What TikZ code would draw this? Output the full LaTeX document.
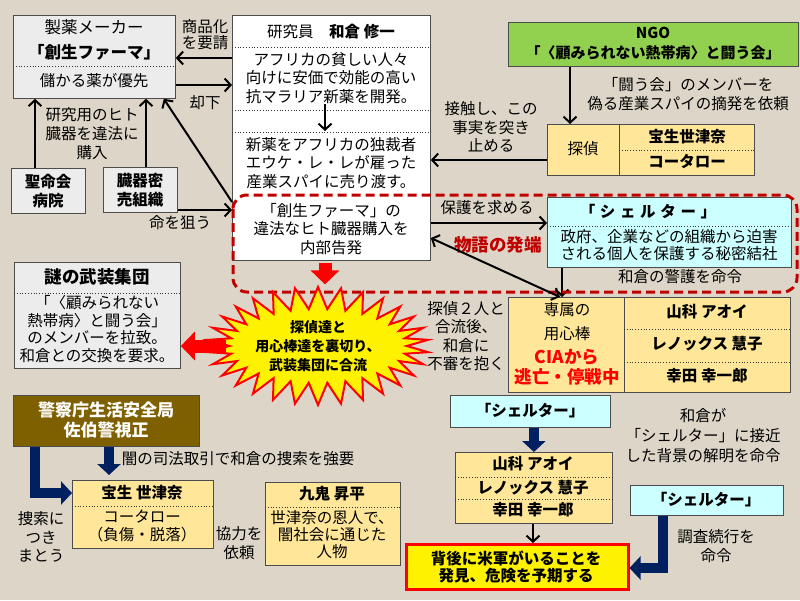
\documentclass[tikz,border=0pt]{standalone}
\usepackage{fontspec}
\setmainfont{Noto Sans CJK JP}
\newfontfamily\gesperrt[LetterSpace=30]{Noto Sans CJK JP}
\usepackage{tikz}
\usetikzlibrary{shapes.arrows,shapes.symbols,arrows.meta}

\definecolor{papier}{RGB}{221,214,200}
\definecolor{grau}{RGB}{236,236,236}
\definecolor{gelb}{RGB}{255,230,153}
\definecolor{tuerkis}{RGB}{204,255,255}
\definecolor{gruen}{RGB}{146,208,80}
\definecolor{braun}{RGB}{127,96,0}
\definecolor{marine}{RGB}{0,32,96}
\definecolor{dunkelrot}{RGB}{192,0,0}

\begin{document}
\begin{tikzpicture}[x=1pt,y=-1pt,
	>={Straight Barb[length=6pt,width=13pt]},
	kasten/.style={draw=black!70, line width=0.8pt, anchor=north west, inner sep=0pt},
	txt/.style={align=center, inner sep=0pt},
	fett/.style={txt, font=\fontsize{15.5}{18.5}\selectfont\bfseries},
	teil/.style={dotted, line width=0.8pt, black!80},
	verb/.style={line width=2pt},
	dick/.style={line width=10pt, marine, -{Triangle[length=11pt,width=23pt]}},
	rotpfeil/.style={line width=13pt, red, -{Triangle[length=14pt,width=28pt]}}]
			\tikzstyle{every node}=[font=\fontsize{15.5}{18.5}\selectfont]
			
			%Hintergrund
			\fill[papier] (0,0) rectangle (800,600);
			\useasboundingbox (0,0) rectangle (800,600);
			
			%Pharma
			\node[kasten, fill=grau, minimum width=162pt, minimum height=83pt] (pharma) at (13,15) {};
			\node[txt, font=\fontsize{16.5}{19}\selectfont] (pharmaA) at (94,27) {製薬メーカー};
			\node[fett, font=\fontsize{16.5}{19}\selectfont\bfseries] (pharmaB) at (94,52) {「創生ファーマ」};
			\draw[teil] (pharma.west |- 0,66) -- (pharma.east |- 0,66);
			\node[txt] (pharmaC) at (94,81) {儲かる薬が優先};
			
			\node[kasten, fill=grau, minimum width=74pt, minimum height=45pt] (spital) at (11,168) {};
			\node[fett] (spitalT) at (48,191) {聖命会\\病院};
			\node[kasten, fill=grau, minimum width=74pt, minimum height=45pt] (organ) at (103,167) {};
			\node[fett] (organT) at (140,190) {臓器密\\売組織};
			
			%Forscher
			\node[kasten, fill=white, minimum width=198pt, minimum height=245pt] (forscher) at (232,15) {};
			\node[txt] (titel) at (331,32) {研究員\quad{\bfseries 和倉 修一}};
			\draw[teil] (forscher.west |- 0,47) -- (forscher.east |- 0,47);
			\node[txt] (entw) at (331,78) {アフリカの貧しい人々\\向けに安価で効能の高い\\抗マラリア新薬を開発。};
			\draw[teil] (forscher.west |- 0,110) -- (forscher.east |- 0,110);
			\draw[teil] (forscher.west |- 0,132) -- (forscher.east |- 0,132);
			\node[txt] (verkauf) at (331,163) {新薬をアフリカの独裁者\\エウケ・レ・レが雇った\\産業スパイに売り渡す。};
			\node[txt] (anzeige) at (331,229) {「創生ファーマ」の\\違法なヒト臓器購入を\\内部告発};
			\draw[->, verb] (325,104) -- (325,131);
			
			%NGO und Detektiv
			\node[kasten, fill=gruen, minimum width=290pt, minimum height=44pt] (ngo) at (508,22) {};
			\node[fett, font=\fontsize{15}{20}\selectfont\bfseries] (ngoT) at (653,44) {NGO\\「〈顧みられない熱帯病〉と闘う会」};
			\node[kasten, fill=gelb, minimum width=207pt, minimum height=51pt] (detektiv) at (547,124) {};
			\draw[line width=0.8pt, black!70] (619,124) -- (619,175);
			\draw[teil] (619,150) -- (detektiv.east |- 0,150);
			\node[txt] (detektivT) at (583,149) {探偵};
			\node[fett] (hosho1) at (687,137) {宝生世津奈};
			\node[fett] (kotaro1) at (687,162) {コータロー};
			
			%Shelter
			\node[kasten, fill=tuerkis, minimum width=244pt, minimum height=70pt] (shelter) at (547,197) {};
			\node[fett] (shelterT) at (648,212) {{\gesperrt「シェルター」}};
			\draw[teil] (shelter.west |- 0,226) -- (shelter.east |- 0,226);
			\node[txt, font=\fontsize{15.5}{16.5}\selectfont] (shelterB) at (669,245) {政府、企業などの組織から迫害\\される個人を保護する秘密結社};
			
			%Leibwache
			\node[kasten, fill=gelb, minimum width=282pt, minimum height=95pt] (leibwache) at (508,297) {};
			\draw[line width=0.8pt, black!70] (624,297) -- (624,392);
			\draw[teil] (624,329) -- (leibwache.east |- 0,329);
			\draw[teil] (624,362) -- (leibwache.east |- 0,362);
			\node[fett] (aoi1) at (707,312) {山科 アオイ};
			\node[fett] (keiko1) at (707,344) {レノックス 慧子};
			\node[fett] (koichi1) at (707,376) {幸田 幸一郎};
			\node[txt] (exklusiv) at (567,310) {専属の};
			\node[txt] (bodyguard) at (567,334) {用心棒};
			\node[txt, red, font=\fontsize{17.5}{20}\selectfont\bfseries] (cia) at (567,367) {CIAから\\逃亡・停戦中};
			
			%Bande
			\node[kasten, fill=grau, minimum width=166pt, minimum height=106pt] (bande) at (14,262) {};
			\node[fett, font=\fontsize{17.5}{20}\selectfont\bfseries] (bandeT) at (97,277) {謎の武装集団};
			\draw[teil] (bande.west |- 0,293) -- (bande.east |- 0,293);
			\node[txt, font=\fontsize{15.5}{17.7}\selectfont] (bandeB) at (97,329) {「〈顧みられない\\熱帯病〉と闘う会」\\のメンバーを拉致。\\和倉との交換を要求。};
			
			%Polizei
			\node[kasten, fill=braun, minimum width=186pt, minimum height=51pt] (polizei) at (13,395) {};
			\node[fett, white, font=\fontsize{17}{20}\selectfont\bfseries] (polizeiT) at (106,420) {警察庁生活安全局\\佐伯警視正};
			\node[kasten, fill=gelb, minimum width=141pt, minimum height=68pt] (hosho) at (72,480) {};
			\node[fett] (hoshoT) at (142,493) {宝生 世津奈};
			\draw[teil] (hosho.west |- 0,506) -- (hosho.east |- 0,506);
			\node[txt] (hoshoB) at (142,526) {コータロー\\（負傷・脱落）};
			\node[kasten, fill=gelb, minimum width=135pt, minimum height=83pt] (kuki) at (265,482) {};
			\node[fett] (kukiT) at (332,494) {九鬼 昇平};
			\draw[teil] (kuki.west |- 0,507) -- (kuki.east |- 0,507);
			\node[txt, font=\fontsize{15.5}{17}\selectfont] (kukiB) at (332,535) {世津奈の恩人で、\\闇社会に通じた\\人物};
			
			%Shelter unten
			\node[kasten, fill=tuerkis, minimum width=160pt, minimum height=32pt] (schutz1) at (450,395) {};
			\node[fett] (schutz1T) at (530,411) {「シェルター」};
			\node[kasten, fill=gelb, minimum width=157pt, minimum height=71pt] (namen) at (455,452) {};
			\draw[teil] (namen.west |- 0,477) -- (namen.east |- 0,477);
			\draw[teil] (namen.west |- 0,499) -- (namen.east |- 0,499);
			\node[fett] (aoi2) at (533,464) {山科 アオイ};
			\node[fett] (keiko2) at (533,488) {レノックス 慧子};
			\node[fett] (koichi2) at (533,510) {幸田 幸一郎};
			\node[kasten, fill=tuerkis, minimum width=153pt, minimum height=30pt] (schutz2) at (630,485) {};
			\node[fett] (schutz2T) at (706,500) {「シェルター」};
			\node[kasten, fill=yellow, draw=red, line width=2.5pt, minimum width=222pt, minimum height=45pt] (entdeck) at (405,543) {};
			\node[fett, font=\fontsize{15.5}{17.5}\selectfont\bfseries] (entdeckT) at (516,567) {背後に米軍がいることを\\発見、危険を予期する};
			
			%Beschriftungen
			\node[txt, font=\fontsize{15.5}{16}\selectfont] (lblA) at (205,35) {商品化\\を要請};
			\node[txt] (lblB) at (205,103) {却下};
			\node[txt, font=\fontsize{15.5}{19}\selectfont] (lblC) at (92,134) {研究用のヒト\\臓器を違法に\\購入};
			\node[txt] (lblD) at (180,223) {命を狙う};
			\node[txt] (lblE) at (688,94) {「闘う会」のメンバーを\\偽る産業スパイの摘発を依頼};
			\node[txt] (lblF) at (491,127) {接触し、この\\事実を突き\\止める};
			\node[txt] (lblG) at (487,208) {保護を求める};
			\node[txt, font=\fontsize{17.5}{20}\selectfont\bfseries, dunkelrot] (lblH) at (498,245) {物語の発端};
			\node[txt] (lblI) at (680,277) {和倉の警護を命令};
			\node[txt] (lblJ) at (466,336) {探偵２人と\\合流後、\\和倉に\\不審を抱く};
			\node[txt] (lblK) at (238,459) {闇の司法取引で和倉の捜索を強要};
			\node[txt] (lblL) at (41,537) {捜索に\\つき\\まとう};
			\node[txt, font=\fontsize{15.5}{19}\selectfont] (lblM) at (239,543) {協力を\\依頼};
			\node[txt, font=\fontsize{15.5}{20}\selectfont] (lblN) at (703,436) {和倉が\\「シェルター」に接近\\した背景の解明を命令};
			\node[txt] (lblO) at (716,546) {調査続行を\\命令};
			
			%Pfeile
			\draw[->, verb] (forscher.west |- 0,58) -- (pharma.east |- 0,58);
			\draw[->, verb] (pharma.east |- 0,85) -- (forscher.west |- 0,85);
			\draw[->, verb] (spital.north -| 35,0) -- (pharma.south -| 35,0);
			\draw[->, verb] (organ.north -| 146,0) -- (pharma.south -| 146,0);
			\draw[->, verb] (forscher.west |- 0,202) -- ([xshift=-12pt]pharma.south east);
			\draw[->, verb] (organ.east |- 0,210) -- (forscher.west |- 0,210);
			\draw[->, verb] (ngo.south -| 570,0) -- (detektiv.north -| 570,0);
			\draw[->, verb] (detektiv.west |- 0,160) -- (forscher.east |- 0,160);
			\draw[->, verb] (forscher.east |- 0,223) -- (shelter.west |- 0,223);
			\draw[->, verb] (shelter.south -| 562,0) -- (leibwache.north -| 562,0);
			\draw[->, verb] (namen.south -| 533,0) -- (entdeck.north -| 533,0);
			
			%Rahmen
			\draw[dunkelrot, line width=3pt, dash pattern=on 9pt off 5pt, rounded corners=14pt] (233,195) rectangle (797,292);
			\draw[<->, verb] (forscher.east |- 0,238) -- (leibwache.north -| 560,0);
			
			%Explosion
			\node[starburst, fill=yellow, draw=red, line width=2pt, random starburst=0, starburst points=30, starburst point height=22pt, minimum width=218pt, minimum height=118pt, inner sep=0pt, align=center, font=\fontsize{14}{19}\selectfont\bfseries] (burst) at (318,346) {探偵達と\\用心棒達を裏切り、\\武装集団に合流};
			\draw[rotpfeil] (forscher.south -| 325,0) ++(0,2) -- (burst.north -| 325,0);
			\draw[rotpfeil] (burst.west) -- (bande.east |- burst.west);
			
			%dicke Pfeile
			\draw[dick, shorten >=5pt] (polizei.south -| 109,0) -- (hosho.north -| 109,0);
			\draw[dick] (polizei.south -| 35,0) |- (hosho.west |- 0,493);
			\draw[dick] (schutz1.south -| namen.north) -- (namen.north);
			\draw[dick] (schutz2.south -| 663,0) |- (entdeck.east |- 0,568);
		\end{tikzpicture}
\end{document}
